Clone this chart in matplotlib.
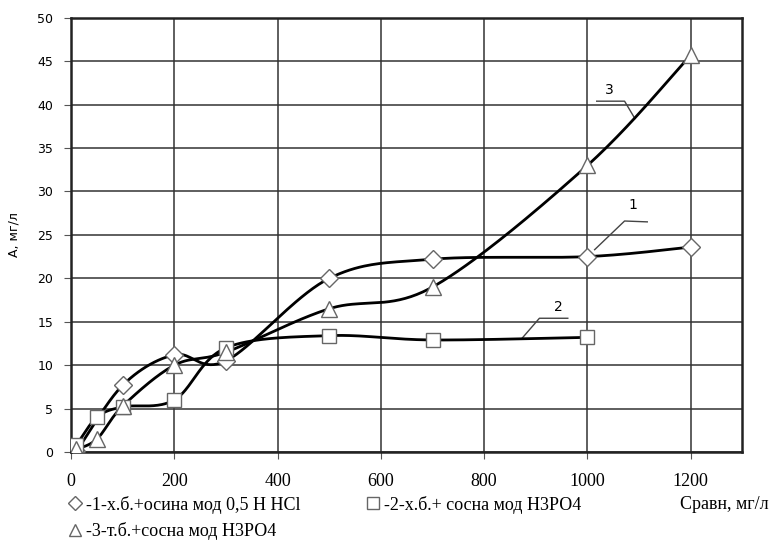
import numpy as np
import matplotlib
matplotlib.use('Agg')
from matplotlib import pyplot as plt
from matplotlib.lines import Line2D

# data
x1 = [0, 10, 100, 200, 300, 500, 700, 1000, 1200]
y1 = [0, 0.1, 7.7, 11.2, 10.5, 20.0, 22.2, 22.5, 23.6]

x2 = [0, 10, 50, 100, 200, 300, 500, 700, 1000]
y2 = [0, 0.8, 4.0, 5.2, 6.0, 12.0, 13.4, 12.9, 13.2]

x3 = [0, 10, 50, 100, 200, 300, 500, 700, 1000, 1200]
y3 = [0, 0.3, 1.5, 5.3, 10.0, 11.5, 16.5, 19.0, 33.0, 45.7]

labels = ['-1-х.б.+осина мод 0,5 Н НСl',
          '-2-х.б.+ сосна мод Н3РО4',
          '-3-т.б.+сосна мод Н3РО4']


def smooth(x, y, n=40):
    # Catmull-Rom like Excel "smoothed line"
    p = np.column_stack([x, y]).astype(float)
    p = np.vstack([p[0], p, p[-1]])
    out = []
    t = np.linspace(0, 1, n)[:, None]
    for i in range(1, len(p) - 2):
        p0, p1, p2, p3 = p[i - 1], p[i], p[i + 1], p[i + 2]
        seg = 0.5 * ((2 * p1) + (-p0 + p2) * t + (2 * p0 - 5 * p1 + 4 * p2 - p3) * t ** 2
                     + (-p0 + 3 * p1 - 3 * p2 + p3) * t ** 3)
        out.append(seg)
    out = np.vstack(out)
    return out[:, 0], out[:, 1]


fig = plt.figure(figsize=(7.74, 5.40), dpi=100)
ax = fig.add_axes([0.092, 0.163, 0.867, 0.804])

for x, y in [(x1, y1), (x2, y2), (x3, y3)]:
    sx, sy = smooth(x, y)
    ax.plot(sx, sy, color='black', lw=2, zorder=3)

mk = dict(ls='none', mfc='white', mec='#666666', mew=1.0, zorder=4)
ax.plot(x1[1:], y1[1:], marker='D', ms=9, **mk)
ax.plot(x2[1:], y2[1:], marker='s', ms=10, **mk)
ax.plot(x3[1:], y3[1:], marker='^', ms=11, **mk)

# curve numbers with leader lines
lc = dict(color='#444444', lw=1)
ax.plot([1014, 1072, 1116], [23.3, 26.6, 26.5], **lc)
ax.text(1088, 27.6, '1', fontsize=10, ha='center', va='bottom', family='DejaVu Sans')
ax.plot([872, 907, 962], [13.0, 15.4, 15.4], **lc)
ax.text(944, 15.9, '2', fontsize=10, ha='center', va='bottom', family='DejaVu Sans')
ax.plot([1092, 1072, 1018], [38.4, 40.4, 40.4], **lc)
ax.text(1043, 40.9, '3', fontsize=10, ha='center', va='bottom', family='DejaVu Sans')

ax.set_xlim(0, 1300)
ax.set_ylim(0, 50)
ax.set_xticks(range(0, 1201, 200))
ax.set_yticks(range(0, 51, 5))
ax.grid(True, color='#333333', lw=1.1)
ax.set_axisbelow(True)
for s in ax.spines.values():
    s.set_linewidth(1.8)
    s.set_color('#222222')
ax.tick_params(axis='both', direction='out', length=5, color='#555555')
ax.tick_params(axis='x', labelsize=13, pad=10)
for t in ax.get_xticklabels():
    t.set_family('Liberation Serif')
ax.tick_params(axis='y', labelsize=9, pad=8)
ax.set_ylabel('А, мг/л', fontsize=9, labelpad=12)

handles = [Line2D([], [], marker='D', ms=7, **mk),
           Line2D([], [], marker='^', ms=8, **mk),
           Line2D([], [], marker='s', ms=8, **mk)]
fig.legend(handles, [labels[0], labels[2], labels[1]], ncol=2,
           loc='upper left', bbox_to_anchor=(0.088, 0.082), frameon=False,
           prop={'family': 'Liberation Serif', 'size': 13},
           handlelength=0.8, handletextpad=0.2, columnspacing=3.6,
           labelspacing=0.45, borderaxespad=0, borderpad=0)
fig.text(0.878, 0.065, 'Сравн, мг/л', family='Liberation Serif', fontsize=13,
         va='center')

fig.savefig('out.png', dpi=100)
